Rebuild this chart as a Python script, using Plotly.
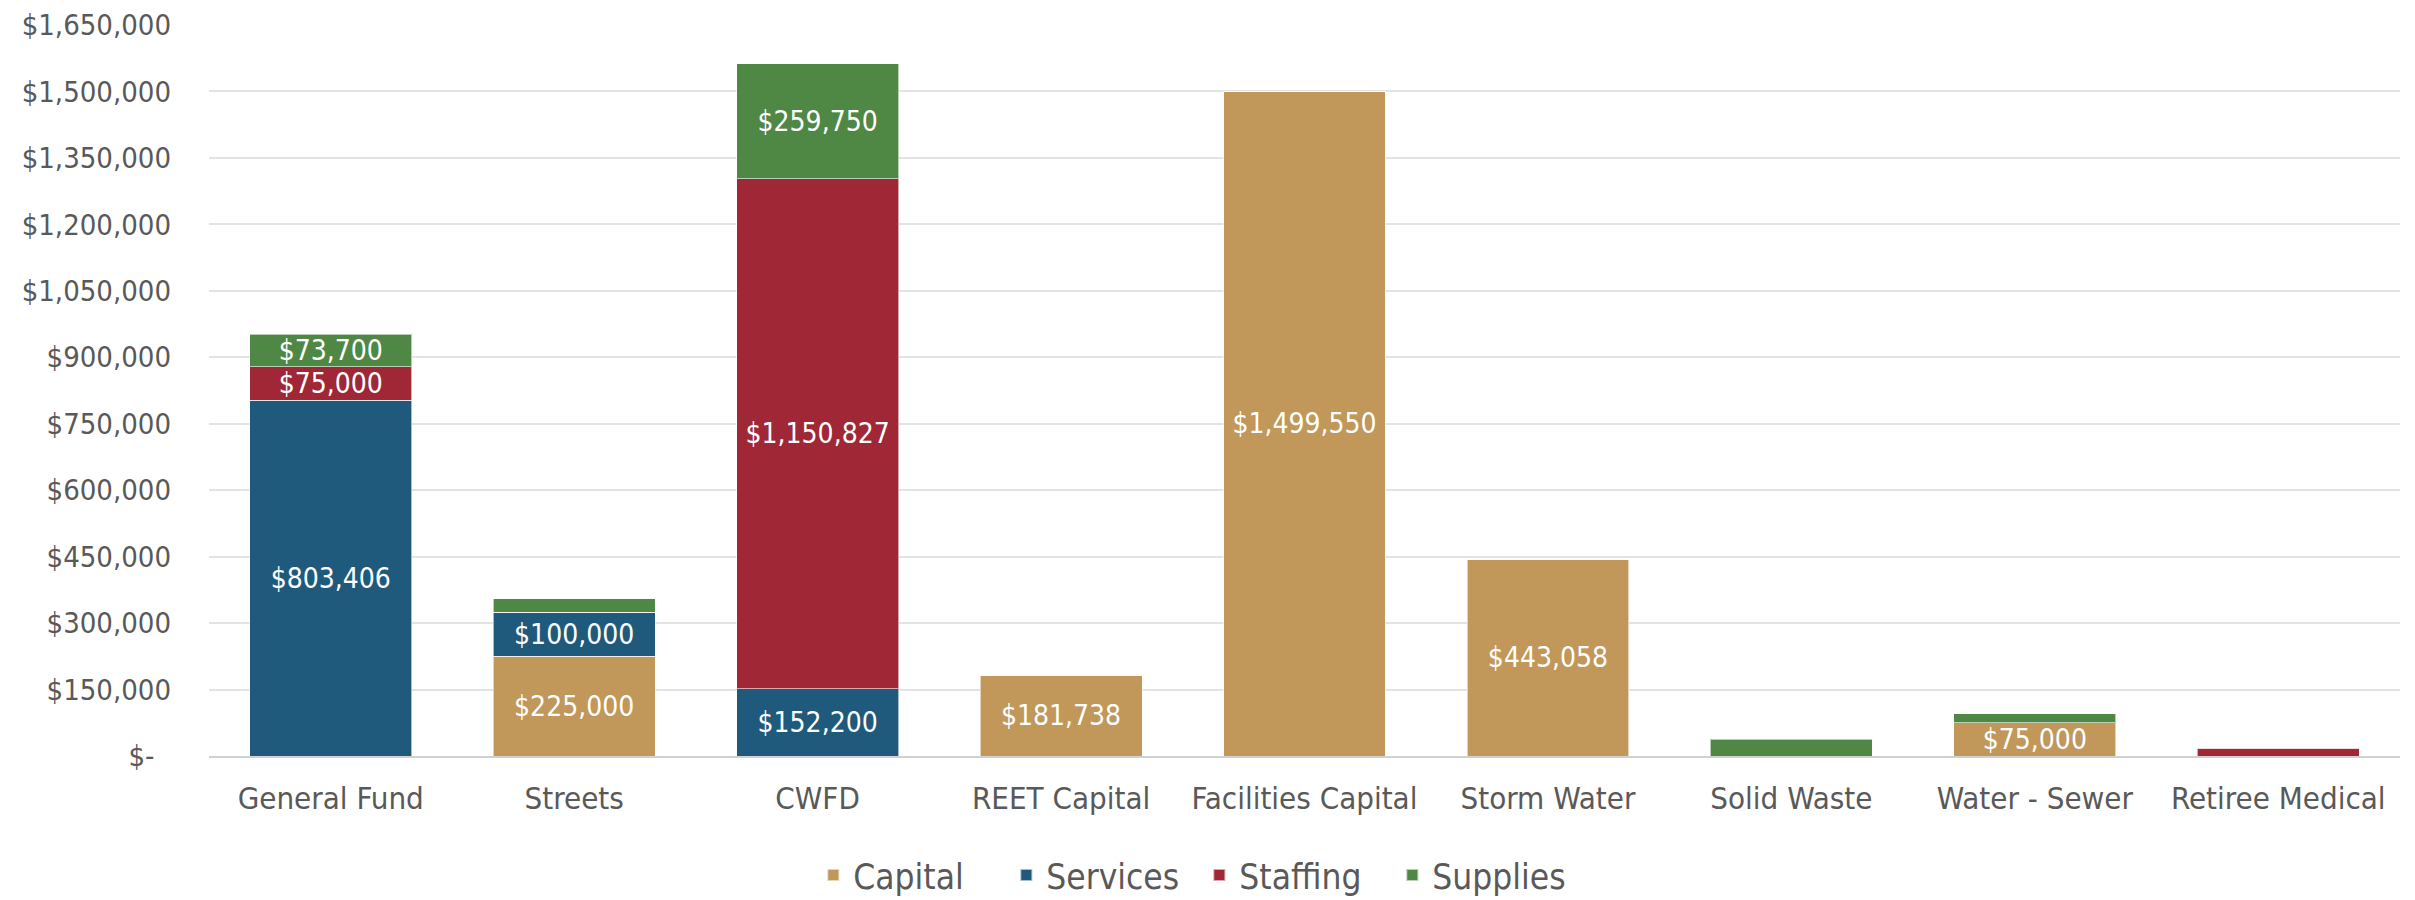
import plotly.graph_objects as go

categories = ["General Fund", "Streets", "CWFD", "REET Capital", "Facilities Capital",
              "Storm Water", "Solid Waste", "Water - Sewer", "Retiree Medical"]
capital  = [0, 225000, 0, 181738, 1499550, 443058, 0, 75000, 0]
services = [803406, 100000, 152200, 0, 0, 0, 0, 0, 0]
staffing = [75000, 0, 1150827, 0, 0, 0, 0, 0, 18000]
supplies = [73700, 30000, 259750, 0, 0, 0, 37500, 20000, 0]

series_names = ["Capital", "Services", "Staffing", "Supplies"]
series_colors = ["#C1975A", "#1F5A7C", "#A02735", "#4F8744"]
tick_values = [0, 150000, 300000, 450000, 600000, 750000, 900000, 1050000,
               1200000, 1350000, 1500000, 1650000]
tick_labels = ["$-\u00a0\u00a0"] + ["${:,}".format(v) for v in tick_values[1:]]

FONT = "DejaVu Sans Condensed, DejaVu Sans, sans-serif"
GRAY = "#595959"

def lbl(vals):
    return ["${:,}".format(v) if v >= 70000 else "" for v in vals]

fig = go.Figure()
for name, vals, col in zip(series_names, [capital, services, staffing, supplies], series_colors):
    fig.add_trace(go.Bar(
        x=categories, y=vals, name=name,
        marker=dict(color=col, line=dict(color="rgba(255,255,255,0.6)", width=1)),
        text=lbl(vals), textposition="inside", insidetextanchor="middle",
        textangle=0,
        textfont=dict(color="white", size=28, family=FONT),
        constraintext="none", hoverinfo="x+y+name",
    ))

fig.update_layout(
    barmode="stack", bargap=0.335,
    width=2407, height=892, autosize=False,
    margin=dict(l=201, r=15, t=17, b=144, autoexpand=False),
    paper_bgcolor="white", plot_bgcolor="white",
    font=dict(family=FONT, color=GRAY, size=28),
    legend=dict(orientation="h", x=0.452, xanchor="center",
                y=-0.163, yanchor="middle", font=dict(size=35, color=GRAY),
                itemsizing="constant", traceorder="normal", itemwidth=30,
                entrywidth=148, entrywidthmode="pixels", tracegroupgap=0),
    showlegend=True,
)
fig.update_yaxes(range=[0, 1650000], tickvals=tick_values, ticktext=tick_labels,
                 showgrid=True, gridcolor="#E3E3E3", gridwidth=2,
                 zeroline=False, showline=False, ticks="",
                 tickfont=dict(size=29, color=GRAY), ticklabelstandoff=37)
fig.update_xaxes(showline=True, linecolor="#D0D0D0", linewidth=2, ticks="",
                 tickangle=0,
                 tickfont=dict(size=31, color=GRAY), ticklabelstandoff=14)

fig.write_html("out.html")
